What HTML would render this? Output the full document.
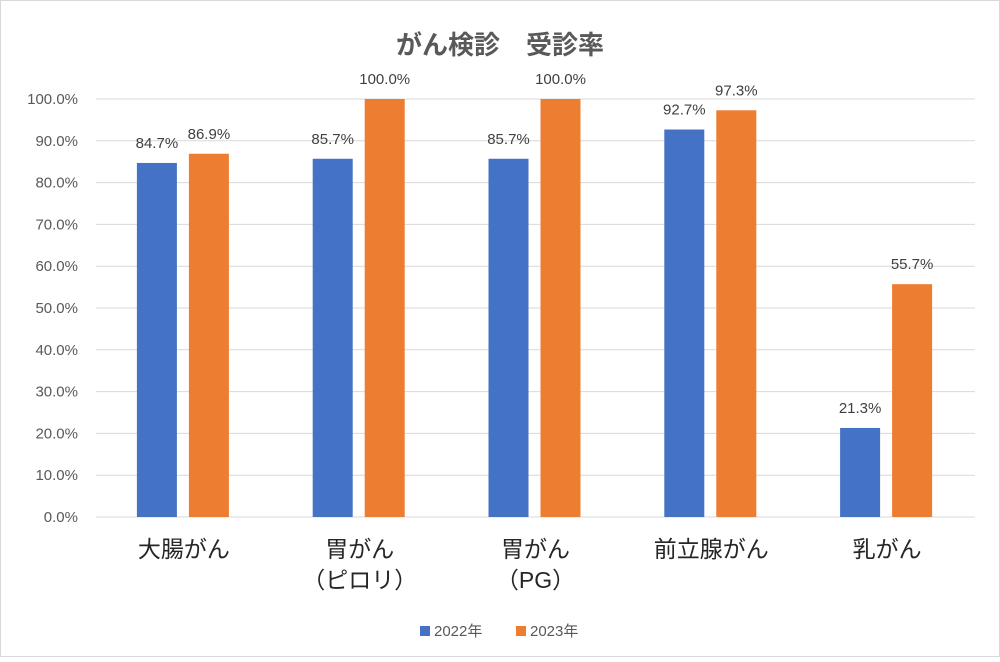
<!DOCTYPE html>
<html><head><meta charset="utf-8"><style>
body{margin:0;background:#fff;}
svg text{font-family:"Liberation Sans","Noto Sans CJK JP",sans-serif;}
</style></head><body>
<svg id="chart" width="1000" height="657" viewBox="0 0 1000 657">
<rect x="0.5" y="0.5" width="999" height="656" fill="#fff" stroke="#d9d9d9"/>
<text x="500" y="54" text-anchor="middle" font-size="26" font-weight="bold" fill="#595959">がん検診　受診率</text>
<g id="grid"></g><g id="bars"></g><g id="labels"></g>
<g>
<rect x="420" y="626" width="10" height="10" fill="#4472c4"/>
<text x="434" y="636" font-size="15" fill="#595959">2022年</text>
<rect x="516" y="626" width="10" height="10" fill="#ed7d31"/>
<text x="530" y="636" font-size="15" fill="#595959">2023年</text>
</g>
</svg>
<script>
const categories=[["大腸がん"],["胃がん","（ピロリ）"],["胃がん","（PG）"],["前立腺がん"],["乳がん"]];
const series2022=[84.7,85.7,85.7,92.7,21.3];
const series2023=[86.9,100.0,100.0,97.3,55.7];
const yTicks=[0,10,20,30,40,50,60,70,80,90,100];
const NS="http://www.w3.org/2000/svg";
const x0=96,x1=975,y0=517,y1=99;
const y=v=>y0-(v/100)*(y0-y1);
const band=(x1-x0)/categories.length;
const cx=i=>x0+band*(i+0.5);
function mk(t,a,p){const e=document.createElementNS(NS,t);for(const k in a)e.setAttribute(k,a[k]);document.getElementById(p).appendChild(e);return e;}
yTicks.forEach(t=>{
 const l=mk('line',{x1:x0,x2:x1,y1:y(t),y2:y(t),stroke:'#d9d9d9','stroke-width':1},'grid');
 
 
 const tx=mk('text',{x:78,y:y(t)+5,'text-anchor':'end','font-size':15,fill:'#595959'},'grid');
 tx.textContent=t.toFixed(1)+'%';
 
 
});
const bw=40;
[[series2022,-27,'#4472c4','2022'],[series2023,25,'#ed7d31','2023']].forEach(([s,off,c,n])=>{
 s.forEach((v,i)=>{
  const r=mk('rect',{x:cx(i)+off-bw/2,y:y(v),width:bw,height:y0-y(v),fill:c},'bars');
  
  
  const t=mk('text',{x:cx(i)+off,y:y(v)-15,'text-anchor':'middle','font-size':15,fill:'#404040'},'labels');
  t.textContent=v.toFixed(1)+'%';
  
  
 });
});
categories.forEach((c,i)=>{
 c.forEach((line,j)=>{
  const t=mk('text',{x:cx(i),y:557+j*31,'text-anchor':'middle','font-size':23,fill:'#262626'},'labels');
  t.textContent=line;
  
  
 });
});
</script>
</body></html>
